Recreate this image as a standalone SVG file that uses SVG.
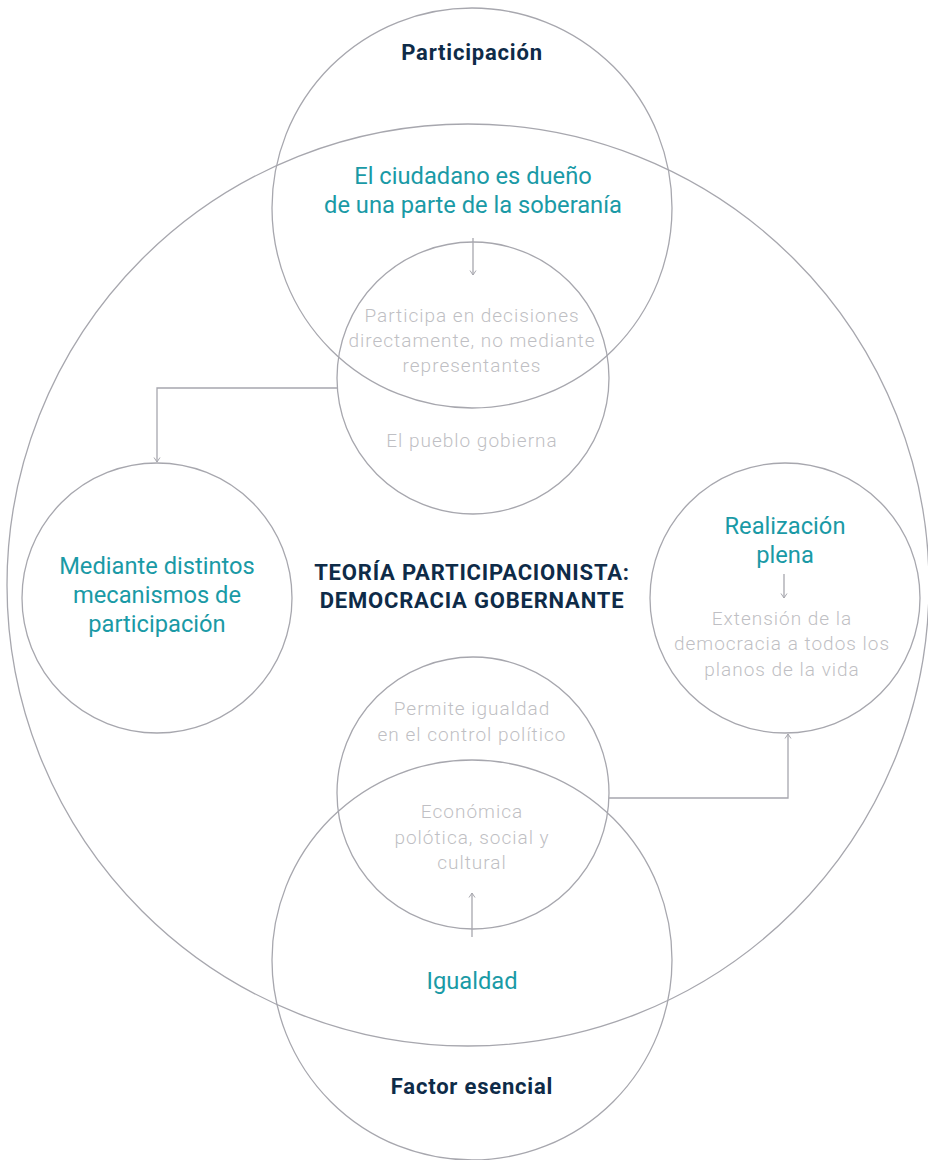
<svg xmlns="http://www.w3.org/2000/svg" width="928" height="1160" viewBox="0 0 928 1160">
<defs>
<marker id="arr" viewBox="0 0 8 8" refX="7" refY="4" markerWidth="8" markerHeight="8" orient="auto" markerUnits="userSpaceOnUse">
<path d="M2.5,1 L7,4 L2.5,7" fill="none" stroke="#a7a7ae" stroke-width="1"/>
</marker>
<style>
.c{fill:none;stroke:#a7a7ae;stroke-width:1.3}
.k{fill:none;stroke:#a7a7ae;stroke-width:1.3}
text{font-family:Roboto,"Liberation Sans",sans-serif;text-anchor:middle}
.h{fill:#0e2b48;font-weight:700;font-size:22px;letter-spacing:0.8px}
.t{fill:#1a9aa6;font-size:23.7px}
.g{fill:#bfbfc4;font-weight:300;font-size:19px;letter-spacing:1px}
</style>
</defs>
<rect width="928" height="1160" fill="#ffffff"/>
<g id="big"><circle class="c" cx="468" cy="585" r="461"/>
<text class="h" x="472" y="580">TEORÍA PARTICIPACIONISTA:</text>
<text class="h" x="472" y="608">DEMOCRACIA GOBERNANTE</text></g>
<g id="top"><circle class="c" cx="472" cy="208" r="200"/>
<text class="h" x="472" y="60">Participación</text>
<text class="t" x="473" y="184">El ciudadano es dueño</text>
<text class="t" x="473" y="213">de una parte de la soberanía</text></g>
<g id="topinner"><circle class="c" cx="473" cy="378" r="136"/>
<text class="g" x="472" y="322">Participa en decisiones</text>
<text class="g" x="472" y="347">directamente, no mediante</text>
<text class="g" x="472" y="372">representantes</text>
<text class="g" x="472" y="447">El pueblo gobierna</text></g>
<g id="left"><circle class="c" cx="157" cy="598" r="135"/>
<text class="t" x="157" y="574">Mediante distintos</text>
<text class="t" x="157" y="603">mecanismos de</text>
<text class="t" x="157" y="632">participación</text></g>
<g id="right"><circle class="c" cx="785" cy="598" r="135"/>
<text class="t" x="785" y="534">Realización</text>
<text class="t" x="785" y="563">plena</text>
<text class="g" x="782" y="625">Extensión de la</text>
<text class="g" x="782" y="650">democracia a todos los</text>
<text class="g" x="782" y="676">planos de la vida</text></g>
<g id="botinner"><circle class="c" cx="473" cy="793" r="136"/>
<text class="g" x="472" y="715">Permite igualdad</text>
<text class="g" x="472" y="741">en el control político</text>
<text class="g" x="472" y="818">Económica</text>
<text class="g" x="472" y="844">polótica, social y</text>
<text class="g" x="472" y="869">cultural</text></g>
<g id="bottom"><circle class="c" cx="472" cy="960" r="200"/>
<text class="t" x="472" y="989">Igualdad</text>
<text class="h" x="472" y="1094">Factor esencial</text></g>
<g id="connectors">
<path class="k" d="M473,238 V275" marker-end="url(#arr)"/>
<path class="k" d="M337,388 H157 V462" marker-end="url(#arr)"/>
<path class="k" d="M609,798 H788 V734" marker-end="url(#arr)"/>
<path class="k" d="M472,937 V893" marker-end="url(#arr)"/>
<path class="k" d="M784,574 V598" marker-end="url(#arr)"/>
</g>
</svg>
